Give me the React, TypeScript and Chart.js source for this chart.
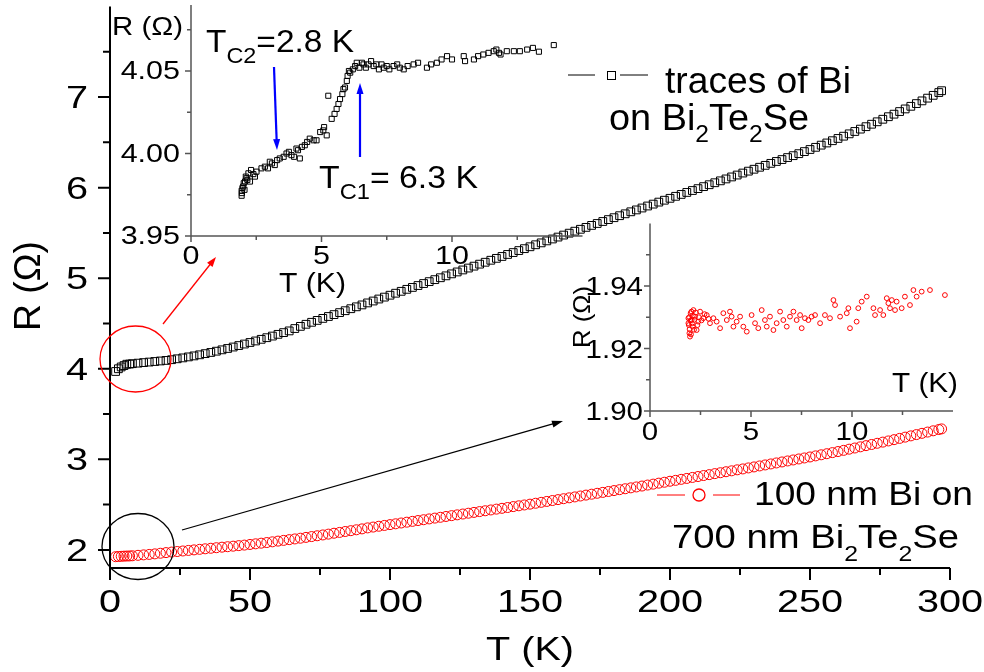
import React, { useEffect, useRef } from "react";
import { Chart, registerables } from "chart.js";

Chart.register(...registerables);

const W = 984;
const H = 672;
const FONT = '"Liberation Sans", Arial, sans-serif';

// ---------------- main panel data ----------------
const tempK = [
  2, 3, 4, 5, 6, 7, 8,
  10, 12, 14, 16, 18, 20, 22, 24, 26, 28, 30, 32, 34, 36, 38, 40, 42, 44, 46, 48, 50, 52, 54, 56, 58, 60, 62, 64, 66, 68,
  70, 72, 74, 76, 78, 80, 82, 84, 86, 88,
  90, 92, 94, 96, 98, 100, 102, 104, 106, 108,
  110, 112, 114, 116, 118, 120, 122, 124, 126, 128,
  130, 132, 134, 136, 138, 140, 142, 144, 146, 148,
  150, 152, 154, 156, 158, 160, 162, 164, 166, 168,
  170, 172, 174, 176, 178, 180, 182, 184, 186, 188,
  190, 192, 194, 196, 198, 200, 202, 204, 206, 208,
  210, 212, 214, 216, 218, 220, 222, 224, 226, 228,
  230, 232, 234, 236, 238, 240, 242, 244, 246,
  248, 250, 252, 254, 256, 258, 260, 262, 264, 266, 268, 270, 272, 274, 276, 278, 280, 282, 284, 286, 288, 290, 292, 294, 296,
  297,
];

const rTracesBi = [
  3.97, 4.0, 4.02, 4.035, 4.05, 4.052, 4.056,
  4.062, 4.068, 4.074, 4.08, 4.086, 4.092, 4.1, 4.11, 4.12, 4.131, 4.142, 4.154, 4.167, 4.18, 4.194, 4.209, 4.224, 4.24, 4.256, 4.273, 4.29, 4.307, 4.325, 4.343, 4.361, 4.38, 4.399, 4.418, 4.444, 4.468,
  4.491, 4.513, 4.534, 4.556, 4.577, 4.598, 4.62, 4.641, 4.663, 4.684,
  4.705, 4.727, 4.748, 4.77, 4.791, 4.812, 4.834, 4.855, 4.877, 4.898,
  4.919, 4.941, 4.962, 4.984, 5.005, 5.026, 5.048, 5.069, 5.091, 5.112,
  5.133, 5.155, 5.176, 5.198, 5.219, 5.24, 5.262, 5.283, 5.305, 5.326,
  5.347, 5.369, 5.39, 5.412, 5.433, 5.454, 5.476, 5.497, 5.519, 5.54,
  5.561, 5.583, 5.604, 5.626, 5.647, 5.668, 5.69, 5.711, 5.733, 5.754,
  5.775, 5.797, 5.818, 5.84, 5.861, 5.882, 5.904, 5.925, 5.947, 5.968,
  5.989, 6.011, 6.032, 6.054, 6.075, 6.096, 6.118, 6.139, 6.161, 6.182,
  6.203, 6.225, 6.246, 6.268, 6.289, 6.31, 6.332, 6.353, 6.375,
  6.398, 6.421, 6.445, 6.469, 6.493, 6.518, 6.543, 6.568, 6.594, 6.62, 6.646, 6.673, 6.7, 6.727, 6.755, 6.783, 6.811, 6.84, 6.869, 6.898, 6.928, 6.958, 6.988, 7.019, 7.05,
  7.07,
];

const r100nmBi = [
  1.925, 1.927, 1.929, 1.931, 1.932, 1.933, 1.935,
  1.94, 1.945, 1.95, 1.956, 1.963, 1.97, 1.976, 1.982, 1.988, 1.994, 2.0, 2.006, 2.012, 2.018, 2.024, 2.03, 2.035, 2.041, 2.047, 2.053, 2.06, 2.067, 2.074, 2.081, 2.089, 2.097, 2.105, 2.113, 2.121, 2.129,
  2.138, 2.147, 2.156, 2.165, 2.174, 2.184, 2.193, 2.203, 2.212, 2.222,
  2.232, 2.243, 2.252, 2.261, 2.27, 2.279, 2.288, 2.297, 2.306, 2.315,
  2.324, 2.333, 2.342, 2.351, 2.36, 2.369, 2.378, 2.387, 2.396, 2.405,
  2.414, 2.423, 2.432, 2.441, 2.45, 2.459, 2.468, 2.478, 2.487, 2.496,
  2.505, 2.515, 2.525, 2.535, 2.545, 2.555, 2.565, 2.575, 2.585, 2.595,
  2.605, 2.615, 2.625, 2.635, 2.645, 2.655, 2.665, 2.675, 2.685, 2.695,
  2.705, 2.716, 2.726, 2.737, 2.747, 2.758, 2.768, 2.779, 2.789, 2.8,
  2.81, 2.821, 2.831, 2.842, 2.852, 2.863, 2.873, 2.884, 2.894, 2.905,
  2.916, 2.927, 2.938, 2.949, 2.96, 2.971, 2.982, 2.993, 3.004,
  3.015, 3.026, 3.038, 3.05, 3.062, 3.074, 3.086, 3.099, 3.112, 3.125, 3.138, 3.151, 3.164, 3.177, 3.19, 3.203, 3.217, 3.231, 3.245, 3.259, 3.273, 3.287, 3.301, 3.315, 3.329,
  3.336,
];

const mainXTicks = [0, 50, 100, 150, 200, 250, 300];
const mainXMinor = [25, 75, 125, 175, 225, 275];
const mainXLabels = ["0", "50", "100", "150", "200", "250", "300"];
const mainYTicks = [2, 3, 4, 5, 6, 7];
const mainYMinor = [2.5, 3.5, 4.5, 5.5, 6.5, 7.5];
const mainYLabels = ["2", "3", "4", "5", "6", "7"];

// ---------------- inset 1 (traces of Bi, low T) ----------------
const inset1T = [
  1.94, 1.94, 1.95, 1.97, 2.0, 2.02, 2.05, 2.07, 2.1, 2.13, 2.16, 2.2, 2.26, 2.3, 2.39, 2.45, 2.51, 2.7, 2.83, 2.95,
  3.02, 3.1, 3.21, 3.3, 3.4, 3.55, 3.66, 3.75, 3.85, 3.95, 4.04, 4.1, 4.17, 4.25, 4.36, 4.45, 4.55, 4.7, 4.81, 4.95,
  5.07, 5.1, 5.2, 5.26, 5.39, 5.5, 5.58, 5.65, 5.71, 5.8, 5.84, 5.9, 5.97, 6.0, 6.05, 6.1, 6.2, 6.29, 6.35, 6.45,
  6.55, 6.61, 6.7, 6.8, 6.9, 7.0, 7.1, 7.2, 7.3, 7.38, 7.5, 7.6, 7.76, 7.9, 8.0, 8.15, 8.3, 8.53, 8.7, 9.04,
  9.2, 9.42, 9.6, 9.81, 10.0, 10.45, 10.5, 10.84, 11.0, 11.2, 11.4, 11.6, 11.7, 11.8, 11.86, 12.1, 12.37, 12.6, 12.88, 13.1,
  13.33, 13.9,
];
const inset1R = [
  3.9744, 3.9774, 3.976, 3.979, 3.98, 3.982, 3.978, 3.983, 3.986, 3.985, 3.984, 3.988, 3.983, 3.99, 3.9875, 3.986, 3.989, 3.991, 3.992, 3.991,
  3.995, 3.994, 3.993, 3.996, 3.997, 3.998, 4.0, 4.001, 3.999, 3.998, 4.003, 4.002, 3.997, 4.004, 4.005, 4.007, 4.009, 4.008, 4.008, 4.013,
  4.014, 4.016, 4.011, 4.035, 4.021, 4.024, 4.027, 4.03, 4.033, 4.036, 4.039, 4.04, 4.044, 4.047, 4.05, 4.049, 4.051, 4.053, 4.055, 4.052,
  4.055, 4.054, 4.052, 4.054, 4.056, 4.053, 4.054, 4.051, 4.054, 4.052, 4.053, 4.051, 4.053, 4.054, 4.052, 4.051, 4.053, 4.054, 4.055, 4.052,
  4.054, 4.055, 4.057, 4.059, 4.057, 4.059, 4.056, 4.057, 4.059, 4.06, 4.061, 4.062, 4.063, 4.061, 4.06, 4.062, 4.062, 4.062, 4.063, 4.064,
  4.0617, 4.0657,
];
const inset1XTicks = [0, 5, 10];
const inset1XMinor = [2.5, 7.5, 12.5];
const inset1XLabels = ["0", "5", "10"];
const inset1YTicks = [3.95, 4.0, 4.05];
const inset1YMinor = [3.975, 4.025, 4.075];
const inset1YLabels = ["3.95", "4.00", "4.05"];

// ---------------- inset 2 (100 nm Bi, low T) ----------------
const inset2T = [
  1.9, 1.9, 1.92, 1.94, 1.95, 1.96, 1.98, 2.0, 2.01, 2.03, 2.05, 2.06, 2.08, 2.11, 2.12, 2.15, 2.18, 2.2, 2.23, 2.27,
  2.31, 2.35, 2.39, 2.42, 2.48, 2.55, 2.64, 2.7, 2.81, 2.9, 2.97, 3.14, 3.3, 3.47, 3.63, 3.8, 3.96, 4.04, 4.13, 4.29,
  4.46, 4.62, 4.79, 5.03, 5.2, 5.36, 5.53, 5.69, 5.78, 5.94, 6.11, 6.27, 6.44, 6.6, 6.77, 6.93, 7.1, 7.26, 7.43, 7.51,
  7.67, 7.84, 8.0, 8.17, 8.42, 8.66, 8.91, 9.08, 9.16, 9.41, 9.74, 9.82, 9.9, 10.23, 10.31, 10.48, 10.73, 11.06, 11.14, 11.39,
  11.55, 11.72, 11.8, 11.88, 11.97, 12.13, 12.21, 12.46, 12.62, 12.87, 13.04, 13.2, 13.45, 13.86, 14.6,
];
const inset2R = [
  1.9297, 1.9281, 1.9275, 1.93, 1.9249, 1.9262, 1.9238, 1.929, 1.9313, 1.9245, 1.9318, 1.9291, 1.928, 1.927, 1.9305, 1.9323, 1.926, 1.9292, 1.9302, 1.9315,
  1.9259, 1.9275, 1.9286, 1.93, 1.9318, 1.929, 1.9297, 1.931, 1.9307, 1.9295, 1.9281, 1.9297, 1.9286, 1.9265, 1.9313, 1.9291, 1.9318, 1.9302, 1.927, 1.9286,
  1.9302, 1.927, 1.9254, 1.9307, 1.9281, 1.9265, 1.9323, 1.9291, 1.927, 1.9302, 1.9259, 1.9281, 1.9318, 1.9291, 1.927, 1.9302, 1.9318, 1.9291, 1.9307, 1.9265,
  1.9297, 1.9291, 1.9302, 1.9307, 1.9281, 1.9307, 1.9297, 1.9355, 1.9339, 1.9302, 1.9313, 1.9329, 1.9265, 1.9286, 1.9329, 1.935, 1.9366, 1.9329, 1.9307, 1.9323,
  1.9307, 1.9361, 1.9345, 1.9329, 1.9355, 1.9323, 1.935, 1.9329, 1.9366, 1.9339, 1.9387, 1.9366, 1.9382, 1.9387, 1.9371,
];
const inset2XTicks = [0, 5, 10];
const inset2XMinor = [2.5, 7.5, 12.5];
const inset2XLabels = ["0", "5", "10"];
const inset2YTicks = [1.9, 1.92, 1.94];
const inset2YMinor = [1.91, 1.93, 1.95];
const inset2YLabels = ["1.90", "1.92", "1.94"];

// ---------------- drawing helpers ----------------
type Seg = { t: string; sub?: boolean };
type TextOpts = {
  targetW?: number;
  sx?: number;
  align?: "left" | "center" | "right";
  rotate?: boolean;
  color?: string;
  subScale?: number;
  subDy?: number;
};

function richText(ctx: CanvasRenderingContext2D, segs: Seg[], x: number, y: number, size: number, o: TextOpts = {}) {
  const subSize = size * (o.subScale ?? 0.65);
  const subDy = o.subDy ?? size * 0.36;
  ctx.save();
  let w = 0;
  const widths: number[] = [];
  for (const s of segs) {
    ctx.font = `${s.sub ? subSize : size}px ${FONT}`;
    const m = ctx.measureText(s.t).width;
    widths.push(m);
    w += m;
  }
  const sx = o.targetW ? o.targetW / w : o.sx ?? 1;
  ctx.translate(x, y);
  if (o.rotate) ctx.rotate(-Math.PI / 2);
  ctx.scale(sx, 1);
  const align = o.align ?? "left";
  let cx = align === "left" ? 0 : align === "center" ? -w / 2 : -w;
  ctx.textAlign = "left";
  ctx.textBaseline = "alphabetic";
  ctx.fillStyle = o.color ?? "#000";
  segs.forEach((s, i) => {
    ctx.font = `${s.sub ? subSize : size}px ${FONT}`;
    ctx.fillText(s.t, cx, s.sub ? subDy : 0);
    cx += widths[i];
  });
  ctx.restore();
}

function arrow(ctx: CanvasRenderingContext2D, x1: number, y1: number, x2: number, y2: number, color: string, lw: number, hl: number, hw: number) {
  const a = Math.atan2(y2 - y1, x2 - x1);
  const c = Math.cos(a);
  const s = Math.sin(a);
  ctx.save();
  ctx.strokeStyle = color;
  ctx.fillStyle = color;
  ctx.lineWidth = lw;
  ctx.beginPath();
  ctx.moveTo(x1, y1);
  ctx.lineTo(x2 - c * hl * 0.8, y2 - s * hl * 0.8);
  ctx.stroke();
  ctx.beginPath();
  ctx.moveTo(x2, y2);
  ctx.lineTo(x2 - hl * c + (hw / 2) * s, y2 - hl * s - (hw / 2) * c);
  ctx.lineTo(x2 - hl * c - (hw / 2) * s, y2 - hl * s + (hw / 2) * c);
  ctx.closePath();
  ctx.fill();
  ctx.restore();
}

function ellipse(ctx: CanvasRenderingContext2D, cx: number, cy: number, rx: number, ry: number, color: string, lw: number) {
  ctx.save();
  ctx.strokeStyle = color;
  ctx.lineWidth = lw;
  ctx.beginPath();
  ctx.ellipse(cx, cy, rx, ry, 0, 0, Math.PI * 2);
  ctx.stroke();
  ctx.restore();
}

function segment(ctx: CanvasRenderingContext2D, x1: number, y1: number, x2: number, y2: number, color: string, lw: number) {
  ctx.save();
  ctx.strokeStyle = color;
  ctx.lineWidth = lw;
  ctx.beginPath();
  ctx.moveTo(x1, y1);
  ctx.lineTo(x2, y2);
  ctx.stroke();
  ctx.restore();
}

type AxisStyle = {
  color: string;
  width: number;
  majorLen: number;
  minorLen: number;
  font: number;
  sx: number;
  xBase: number;
  yGap: number;
  yBase: number;
};

function drawAxes(
  chart: any,
  st: AxisStyle,
  xMajor: number[],
  xMinor: number[],
  xLabels: string[],
  yMajor: number[],
  yMinor: number[],
  yLabels: string[]
) {
  const ctx: CanvasRenderingContext2D = chart.ctx;
  const ca = chart.chartArea;
  const xs = chart.scales.x;
  const ys = chart.scales.y;
  ctx.save();
  ctx.strokeStyle = st.color;
  ctx.lineWidth = st.width;
  ctx.beginPath();
  ctx.moveTo(ca.left, ca.top);
  ctx.lineTo(ca.left, ca.bottom + st.width / 2);
  ctx.moveTo(ca.left - st.width / 2, ca.bottom);
  ctx.lineTo(ca.right, ca.bottom);
  xMajor.forEach((v) => {
    const p = xs.getPixelForValue(v);
    ctx.moveTo(p, ca.bottom);
    ctx.lineTo(p, ca.bottom + st.majorLen);
  });
  xMinor.forEach((v) => {
    const p = xs.getPixelForValue(v);
    ctx.moveTo(p, ca.bottom);
    ctx.lineTo(p, ca.bottom + st.minorLen);
  });
  yMajor.forEach((v) => {
    const p = ys.getPixelForValue(v);
    ctx.moveTo(ca.left, p);
    ctx.lineTo(ca.left - st.majorLen, p);
  });
  yMinor.forEach((v) => {
    const p = ys.getPixelForValue(v);
    ctx.moveTo(ca.left, p);
    ctx.lineTo(ca.left - st.minorLen, p);
  });
  ctx.stroke();
  ctx.restore();
  xMajor.forEach((v, i) =>
    richText(ctx, [{ t: xLabels[i] }], xs.getPixelForValue(v), ca.bottom + st.xBase, st.font, { sx: st.sx, align: "center" })
  );
  yMajor.forEach((v, i) =>
    richText(ctx, [{ t: yLabels[i] }], ca.left - st.yGap, ys.getPixelForValue(v) + st.yBase, st.font, { sx: st.sx, align: "right" })
  );
}

function baseOptions(xMin: number, xMax: number, yMin: number, yMax: number, padding: any) {
  return {
    responsive: false,
    animation: false as const,
    devicePixelRatio: 1,
    events: [] as any[],
    layout: { padding },
    plugins: { legend: { display: false }, tooltip: { enabled: false } },
    scales: {
      x: { type: "linear" as const, min: xMin, max: xMax, display: false },
      y: { type: "linear" as const, min: yMin, max: yMax, display: false },
    },
  };
}

function toPoints(xs: number[], ys: number[]) {
  return xs.map((x, i) => ({ x, y: ys[i] }));
}

const mainStyle: AxisStyle = { color: "#000", width: 2, majorLen: 12, minorLen: 7, font: 31, sx: 1.28, xBase: 44, yGap: 22, yBase: 11 };
const inset1Style: AxisStyle = { color: "#555", width: 1.5, majorLen: 6, minorLen: 4, font: 25, sx: 1.22, xBase: 28, yGap: 11, yBase: 8 };
const inset2Style: AxisStyle = { color: "#555", width: 1.5, majorLen: 6, minorLen: 4, font: 25, sx: 1.18, xBase: 29, yGap: 7, yBase: 9 };

export default function App() {
  const mainRef = useRef<HTMLCanvasElement>(null);
  const in1Ref = useRef<HTMLCanvasElement>(null);
  const in2Ref = useRef<HTMLCanvasElement>(null);

  useEffect(() => {
    const charts: Chart[] = [];

    // ---- main chart ----
    charts.push(
      new Chart(mainRef.current!, {
        type: "scatter",
        data: {
          datasets: [
            {
              data: toPoints(tempK, rTracesBi),
              pointStyle: "rect",
              pointRadius: 5.5,
              borderColor: "#000",
              borderWidth: 1,
              backgroundColor: "rgba(0,0,0,0)",
              showLine: false,
              clip: false,
            } as any,
            {
              data: toPoints(tempK, r100nmBi),
              pointStyle: "circle",
              pointRadius: 5,
              borderColor: "#ff0000",
              borderWidth: 1,
              backgroundColor: "rgba(0,0,0,0)",
              showLine: false,
              clip: false,
            } as any,
          ],
        },
        options: baseOptions(0, 300, 1.8, 8, { left: 110, right: 34, top: 4, bottom: 104 }) as any,
        plugins: [
          {
            id: "mainDecor",
            afterDraw(chart: any) {
              const ctx: CanvasRenderingContext2D = chart.ctx;
              drawAxes(chart, mainStyle, mainXTicks, mainXMinor, mainXLabels, mainYTicks, mainYMinor, mainYLabels);
              richText(ctx, [{ t: "R (Ω)" }], 40, 286, 37, { align: "center", rotate: true, targetW: 90 });
              richText(ctx, [{ t: "T (K)" }], 530, 660, 33, { align: "center", targetW: 88 });

              // legend 1
              segment(ctx, 568, 75, 595, 75, "#000", 1);
              segment(ctx, 620, 75, 648, 75, "#000", 1);
              ctx.save();
              ctx.strokeStyle = "#000";
              ctx.lineWidth = 1;
              ctx.strokeRect(607.5, 71.5, 8, 8);
              ctx.restore();
              richText(ctx, [{ t: "traces of Bi" }], 665, 93, 36, { targetW: 186 });
              richText(
                ctx,
                [{ t: "on Bi" }, { t: "2", sub: true }, { t: "Te" }, { t: "2", sub: true }, { t: "Se" }],
                609,
                130,
                36,
                { targetW: 200, subDy: 12 }
              );

              // legend 2
              segment(ctx, 657, 495, 685, 495, "#ff0000", 1);
              segment(ctx, 713, 495, 740, 495, "#ff0000", 1);
              ellipse(ctx, 699, 495, 6, 6, "#ff0000", 1.3);
              richText(ctx, [{ t: "100 nm Bi on" }], 754, 505, 33, { targetW: 219 });
              richText(
                ctx,
                [{ t: "700 nm Bi" }, { t: "2", sub: true }, { t: "Te" }, { t: "2", sub: true }, { t: "Se" }],
                672,
                548,
                33,
                { targetW: 287, subDy: 13 }
              );

              // callouts
              ellipse(ctx, 135.5, 359, 35.5, 33, "#ff0000", 1.3);
              ellipse(ctx, 138, 546.5, 36, 33, "#000", 1.3);
              arrow(ctx, 163, 324, 216, 257, "#ff0000", 1.3, 10, 7);
              arrow(ctx, 182, 530, 563, 421, "#000", 1.3, 11, 7);
            },
          },
        ],
      })
    );

    // ---- inset 1 ----
    charts.push(
      new Chart(in1Ref.current!, {
        type: "scatter",
        data: {
          datasets: [
            {
              data: toPoints(inset1T, inset1R),
              pointStyle: "rect",
              pointRadius: 3.6,
              borderColor: "#000",
              borderWidth: 1,
              backgroundColor: "rgba(0,0,0,0)",
              showLine: false,
              clip: false,
            } as any,
          ],
        },
        options: baseOptions(0, 15, 3.95, 4.09, { left: 191, right: 401.5, top: 0.8, bottom: 436 }) as any,
        plugins: [
          {
            id: "in1Decor",
            afterDraw(chart: any) {
              const ctx: CanvasRenderingContext2D = chart.ctx;
              drawAxes(chart, inset1Style, inset1XTicks, inset1XMinor, inset1XLabels, inset1YTicks, inset1YMinor, inset1YLabels);
              richText(ctx, [{ t: "R (Ω)" }], 112, 35, 25, { targetW: 71 });
              richText(ctx, [{ t: "T (K)" }], 279, 292, 27, { targetW: 67 });
              richText(ctx, [{ t: "T" }, { t: "C2", sub: true }, { t: "=2.8 K" }], 206, 52, 31, { targetW: 148, subScale: 0.7, subDy: 11 });
              richText(ctx, [{ t: "T" }, { t: "C1", sub: true }, { t: "= 6.3 K" }], 319, 188, 31, { targetW: 159, subScale: 0.7, subDy: 11 });
              arrow(ctx, 274, 67, 277, 150, "#0000ff", 2.2, 11, 7);
              arrow(ctx, 360, 157, 360, 83, "#0000ff", 2.2, 11, 7);
            },
          },
        ],
      })
    );

    // ---- inset 2 ----
    charts.push(
      new Chart(in2Ref.current!, {
        type: "scatter",
        data: {
          datasets: [
            {
              data: toPoints(inset2T, inset2R),
              pointStyle: "circle",
              pointRadius: 2.4,
              borderColor: "#ff0000",
              borderWidth: 1,
              backgroundColor: "rgba(0,0,0,0)",
              showLine: false,
              clip: false,
            } as any,
          ],
        },
        options: baseOptions(0, 15, 1.9, 1.96, { left: 650, right: 31, top: 223.5, bottom: 261 }) as any,
        plugins: [
          {
            id: "in2Decor",
            afterDraw(chart: any) {
              const ctx: CanvasRenderingContext2D = chart.ctx;
              drawAxes(chart, inset2Style, inset2XTicks, inset2XMinor, inset2XLabels, inset2YTicks, inset2YMinor, inset2YLabels);
              richText(ctx, [{ t: "T (K)" }], 892, 392, 27, { targetW: 66 });
              richText(ctx, [{ t: "R (Ω)" }], 590, 317, 24, { align: "center", rotate: true, targetW: 62 });
            },
          },
        ],
      })
    );

    return () => charts.forEach((c) => c.destroy());
  }, []);

  const cs: React.CSSProperties = { position: "absolute", left: 0, top: 0, width: W, height: H };
  return (
    <div style={{ position: "absolute", left: 0, top: 0, width: W, height: H, background: "#fff", overflow: "hidden" }}>
      <canvas ref={mainRef} width={W} height={H} style={cs} />
      <canvas ref={in1Ref} width={W} height={H} style={cs} />
      <canvas ref={in2Ref} width={W} height={H} style={cs} />
    </div>
  );
}
